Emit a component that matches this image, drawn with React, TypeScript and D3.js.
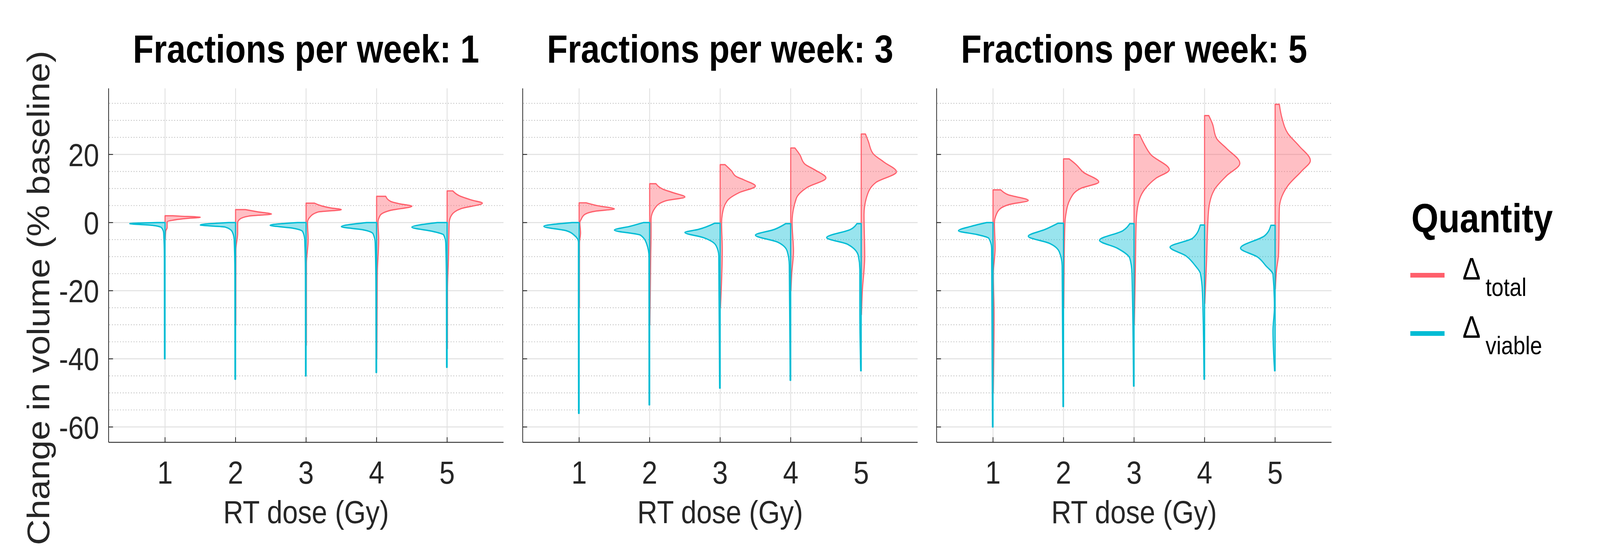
import React, { useEffect, useState } from 'react';
import * as d3 from 'd3';

// [value, half-width in dose units], read top to bottom off the figure
type Profile = [number, number][];

const doses = [1, 2, 3, 4, 5];
const fractionsPerWeek = [1, 3, 5];
const yTicks = [-60, -40, -20, 0, 20];
const yMinor = [-55, -50, -45, -35, -30, -25, -15, -10, -5, 5, 10, 15, 25, 30, 35];

const totalFx1: Profile[] = [
    [[2.0, 0.11], [1.9, 0.2], [1.55, 0.5], [1.2, 0.3], [0.8, 0.14], [0.2, 0.03], [-1.5, 0.03], [-2.5, 0.01], [-5, 0.004]],
    [[3.8, 0.14], [3.2, 0.3], [2.5, 0.51], [1.9, 0.19], [1.0, 0.06], [0, 0.03], [-3, 0.03], [-8, 0.005], [-30, 0.004]],
    [[5.7, 0.12], [4.9, 0.22], [4.3, 0.35], [3.8, 0.5], [3.1, 0.17], [1.5, 0.05], [0, 0.02], [-5, 0.03], [-12, 0.005], [-36, 0.004]],
    [[7.7, 0.13], [6.2, 0.2], [5.5, 0.33], [4.8, 0.5], [3.6, 0.2], [2.1, 0.05], [0, 0.02], [-5, 0.03], [-15, 0.01], [-40, 0.004]],
    [[9.3, 0.08], [7.8, 0.18], [6.6, 0.35], [5.7, 0.5], [4.1, 0.2], [2.1, 0.06], [0, 0.03], [-10, 0.02], [-20, 0.005], [-37, 0.004]],
];
const viableFx1: Profile[] = [
    [[0, 0.11], [-0.3, 0.5], [-0.8, 0.18], [-1.5, 0.05], [-3, 0.02], [-10, 0.01], [-40, 0.008]],
    [[0, 0.1], [-0.7, 0.5], [-1.3, 0.15], [-2.6, 0.05], [-5, 0.02], [-15, 0.01], [-46, 0.008]],
    [[0, 0.12], [-0.8, 0.51], [-1.6, 0.2], [-2.6, 0.05], [-5, 0.02], [-15, 0.01], [-45, 0.008]],
    [[0, 0.14], [-1.2, 0.5], [-2.1, 0.2], [-3.3, 0.05], [-6, 0.02], [-20, 0.01], [-44, 0.008]],
    [[0, 0.14], [-1.35, 0.5], [-2.6, 0.2], [-3.6, 0.05], [-6, 0.02], [-20, 0.01], [-42.5, 0.008]],
];

const totalFx3: Profile[] = [
    [[5.8, 0.1], [5.0, 0.25], [4.0, 0.5], [3.4, 0.25], [2.4, 0.08], [1.0, 0.03], [0, 0.01], [-3, 0.02], [-6, 0.005], [-25, 0.004]],
    [[11.4, 0.09], [9.8, 0.19], [8.8, 0.33], [7.5, 0.5], [6.4, 0.23], [4.4, 0.08], [1.0, 0.02], [-3, 0.02], [-10, 0.015], [-30, 0.004]],
    [[17, 0.07], [15.2, 0.16], [13.5, 0.23], [12.5, 0.34], [10.7, 0.5], [8.8, 0.27], [6.4, 0.1], [2.4, 0.03], [0, 0.02], [-8, 0.03], [-25, 0.004]],
    [[21.9, 0.06], [19.9, 0.13], [17.2, 0.2], [15.5, 0.34], [13.1, 0.5], [10.4, 0.24], [7.1, 0.08], [0, 0.02], [-8.4, 0.04], [-15, 0.015], [-20, 0.004]],
    [[26, 0.06], [23.9, 0.1], [20.2, 0.17], [17.8, 0.32], [14.9, 0.5], [11.8, 0.21], [7.7, 0.08], [2.4, 0.04], [-9.8, 0.05], [-20.5, 0.015], [-27, 0.004]],
];
const viableFx3: Profile[] = [
    [[0, 0.1], [-1.1, 0.5], [-2.4, 0.18], [-3.7, 0.07], [-5.7, 0.01], [-20, 0.01], [-56, 0.008]],
    [[0, 0.09], [-1.1, 0.28], [-2.2, 0.5], [-3.7, 0.13], [-6.4, 0.04], [-10, 0.01], [-53.5, 0.008]],
    [[-0.2, 0.08], [-2, 0.31], [-2.9, 0.5], [-4.4, 0.24], [-6.7, 0.06], [-9.8, 0.02], [-48.6, 0.008]],
    [[-0.3, 0.07], [-2, 0.23], [-3.7, 0.5], [-5.7, 0.19], [-8.4, 0.05], [-12.5, 0.02], [-46.3, 0.008]],
    [[-0.3, 0.06], [-2, 0.15], [-4.4, 0.49], [-6.4, 0.19], [-9.8, 0.04], [-13.8, 0.02], [-25.6, 0.02], [-43.5, 0.008]],
];

const totalFx5: Profile[] = [
    [[9.6, 0.11], [8.2, 0.21], [6.5, 0.5], [5.3, 0.23], [4.2, 0.11], [2.0, 0.04], [0, 0.02], [-7.5, 0.03], [-15, 0.005], [-27, 0.015], [-50, 0.004]],
    [[18.7, 0.08], [17, 0.18], [14.8, 0.28], [11.9, 0.5], [10, 0.24], [7.1, 0.1], [2, 0.03], [0, 0.02], [-10, 0.01], [-25, 0.004]],
    [[25.8, 0.08], [23.2, 0.14], [19.9, 0.24], [15.5, 0.5], [13, 0.31], [10, 0.16], [5.6, 0.06], [0, 0.03], [-12, 0.02], [-30, 0.004]],
    [[31.4, 0.06], [29.1, 0.11], [24.7, 0.17], [21.8, 0.31], [17.4, 0.5], [13.7, 0.31], [10, 0.15], [4.2, 0.06], [-3.2, 0.04], [-10.5, 0.03], [-23.7, 0.004]],
    [[34.7, 0.06], [30.5, 0.1], [26.2, 0.18], [22.5, 0.34], [18.2, 0.5], [15.2, 0.38], [10.8, 0.18], [4.2, 0.06], [-9, 0.05], [-14, 0.02], [-19.5, 0.004]],
];
const viableFx5: Profile[] = [
    [[0, 0.09], [-1.1, 0.31], [-2.4, 0.49], [-3.5, 0.23], [-4.6, 0.06], [-7.5, 0.02], [-60, 0.008]],
    [[-0.2, 0.08], [-2, 0.26], [-4, 0.5], [-6.1, 0.2], [-8.6, 0.06], [-12.7, 0.02], [-54, 0.008]],
    [[-0.3, 0.06], [-2.4, 0.16], [-5.2, 0.49], [-7.5, 0.24], [-10.5, 0.06], [-14.9, 0.03], [-48, 0.008]],
    [[-0.7, 0.06], [-4.6, 0.17], [-7.2, 0.49], [-9.7, 0.27], [-12.7, 0.13], [-14.9, 0.06], [-20.7, 0.03], [-46, 0.008]],
    [[-0.8, 0.06], [-3.9, 0.15], [-7.5, 0.49], [-10.1, 0.25], [-12.7, 0.13], [-15.2, 0.03], [-25, 0.01], [-31.7, 0.03], [-43.5, 0.008]],
];

const totalByPanel = [totalFx1, totalFx3, totalFx5];
const viableByPanel = [viableFx1, viableFx3, viableFx5];

const RED = '#ff5f6b';
const CYAN = '#00bcd4';
const INK = '#262626';

const W = 4724;
const H = 1417;
const panelLeft = [320.7, 1543.3, 2765.3];
const panelWidth = 1166;
const plotTop = 226;
const plotBottom = 1131.3;

const y = d3.scaleLinear().domain([-64.5, 39.4]).range([plotBottom, plotTop]);

const Panel: React.FC<{ index: number }> = ({ index }) => {
    const left = panelLeft[index];
    const x = d3.scaleLinear().domain([0.2, 5.8]).range([left, left + panelWidth]);
    const right = left + panelWidth;
    const cx = left + panelWidth / 2;

    const half = (dose: number, side: number) =>
        d3.area<[number, number]>()
            .y(d => y(d[0]))
            .x0(() => x(dose))
            .x1(d => x(dose + side * d[1]))
            .curve(d3.curveMonotoneY);

    return (
        <g>
            {/* grid */}
            {yMinor.map(v => (
                <line key={'m' + v} x1={left + 2} x2={right} y1={y(v)} y2={y(v)}
                    stroke="#b4b4b4" strokeWidth={2.2} strokeDasharray="2.2,5.8" />
            ))}
            {yTicks.map(v => (
                <line key={'g' + v} x1={left} x2={right} y1={y(v)} y2={y(v)}
                    stroke="#e0e0e0" strokeWidth={2.5} />
            ))}
            {doses.map(d => (
                <line key={'v' + d} x1={x(d)} x2={x(d)} y1={plotTop} y2={plotBottom}
                    stroke="#e0e0e0" strokeWidth={2.5} />
            ))}

            {/* half violins: total to the right, viable to the left */}
            {doses.map((d, i) => (
                <path key={'t' + d} d={half(d, 1)(totalByPanel[index][i]) || ''}
                    fill={RED} fillOpacity={0.4} stroke={RED} strokeWidth={3.2} strokeLinejoin="round" />
            ))}
            {doses.map((d, i) => (
                <path key={'c' + d} d={half(d, -1)(viableByPanel[index][i]) || ''}
                    fill={CYAN} fillOpacity={0.4} stroke={CYAN} strokeWidth={3.5} strokeLinejoin="round" />
            ))}

            {/* axes */}
            <line x1={left} x2={left} y1={plotTop} y2={plotBottom} stroke={INK} strokeWidth={2.2} />
            <line x1={left} x2={right} y1={plotBottom} y2={plotBottom} stroke={INK} strokeWidth={2.2} />
            {yTicks.map(v => (
                <line key={'yt' + v} x1={left} x2={left + 13} y1={y(v)} y2={y(v)} stroke={INK} strokeWidth={2.2} />
            ))}
            {doses.map(d => (
                <line key={'xt' + d} x1={x(d)} x2={x(d)} y1={plotBottom} y2={plotBottom - 13} stroke={INK} strokeWidth={2.2} />
            ))}
            {index === 0 && yTicks.map(v => (
                <text key={'yl' + v} x={left - 28} y={y(v)} dy="0.36em" textAnchor="end"
                    fontSize={82} fill={INK}>{v}</text>
            ))}
            {doses.map(d => (
                <text key={'xl' + d} x={x(d)} y={1237} textAnchor="middle" fontSize={82} fill={INK}>{d}</text>
            ))}

            <text x={cx} y={1338} textAnchor="middle" fontSize={82} fill={INK}>RT dose (Gy)</text>
            <text x={cx} y={160} textAnchor="middle" fontSize={100} fontWeight="bold" fill="#000">
                {`Fractions per week: ${fractionsPerWeek[index]}`}
            </text>
        </g>
    );
};

const App: React.FC = () => {
    // the page may be narrower than the figure; stretch the figure to the whole window
    const [size, setSize] = useState({ w: window.innerWidth || W, h: window.innerHeight || H });

    useEffect(() => {
        document.body.style.margin = '0';
        document.body.style.overflow = 'hidden';
        const onResize = () => setSize({ w: window.innerWidth || W, h: window.innerHeight || H });
        onResize();
        window.addEventListener('resize', onResize);
        return () => window.removeEventListener('resize', onResize);
    }, []);

    const legend = [
        { label: 'total', color: RED },
        { label: 'viable', color: CYAN },
    ];

    return (
        <svg width={size.w} height={size.h} viewBox={`0 0 ${W} ${H}`} preserveAspectRatio="none"
            style={{ position: 'absolute', left: 0, top: 0, display: 'block', background: '#fff' }}
            fontFamily="'Liberation Sans', Arial, Helvetica, sans-serif">
            <rect width={W} height={H} fill="#fff" />
            {fractionsPerWeek.map((f, i) => <Panel key={f} index={i} />)}

            <text transform={`translate(145, 762) rotate(-90)`} textAnchor="middle"
                fontSize={91} fill={INK}>Change in volume (% baseline)</text>

            {/* legend */}
            <text x={4167} y={594} fontSize={103} fontWeight="bold" fill="#000">Quantity</text>
            {legend.map((l, i) => (
                <g key={l.label} transform={`translate(0, ${i * 149})`}>
                    <line x1={4164} x2={4265} y1={704} y2={704} stroke={l.color} strokeWidth={12} />
                    <text x={4318} y={715} fontSize={80} fill="#000">
                        Δ<tspan x={4386} y={757} fontSize={64}>{l.label}</tspan>
                    </text>
                </g>
            ))}
        </svg>
    );
};

export default App;
